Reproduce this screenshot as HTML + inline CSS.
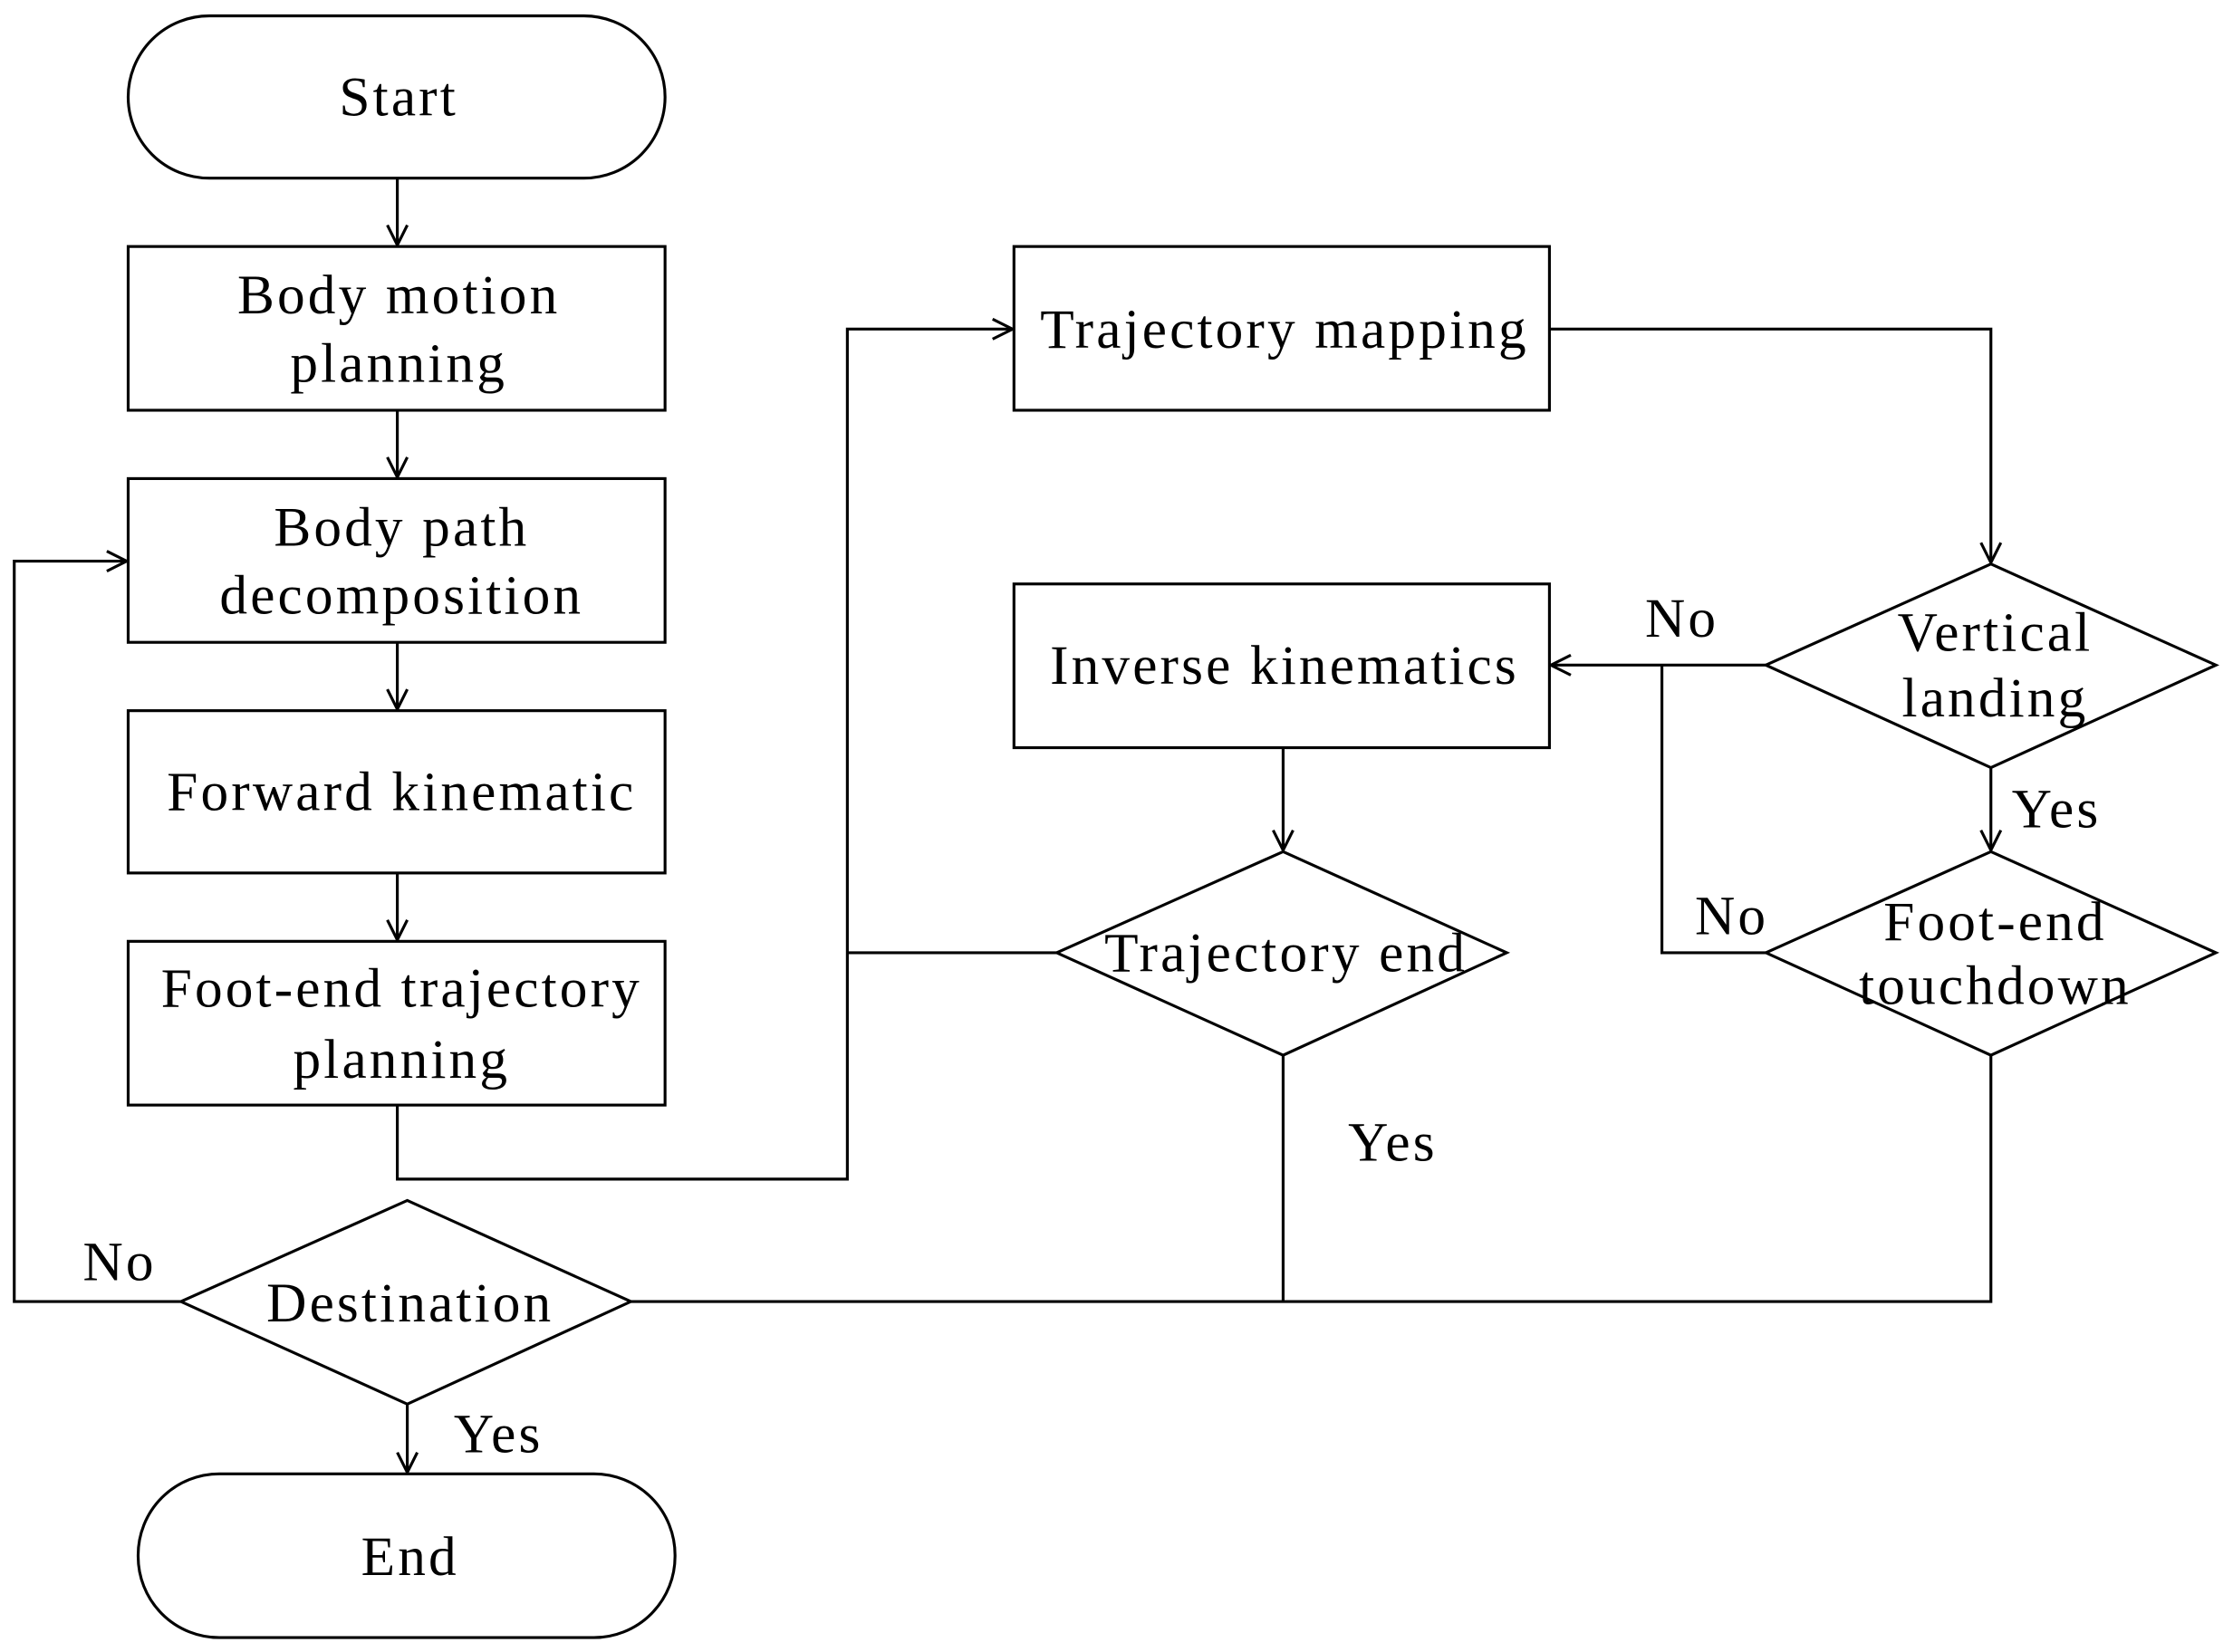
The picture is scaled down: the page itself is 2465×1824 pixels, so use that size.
<!DOCTYPE html>
<html><head><meta charset="utf-8"><style>
html,body{margin:0;padding:0;background:#fff;}
svg{display:block;}
text{font-family:"Liberation Serif",serif;font-size:39px;letter-spacing:2px;fill:#000;text-anchor:middle;}
</style></head><body>
<svg width="2465" height="1824" viewBox="0 0 1568 1160" xmlns="http://www.w3.org/2000/svg">
<defs><marker id="a" markerWidth="16" markerHeight="16" refX="15" refY="8" orient="auto" markerUnits="userSpaceOnUse"><path d="M1,1 L15,8 L1,15" fill="none" stroke="#000" stroke-width="2"/></marker></defs>
<g fill="none" stroke="#000" stroke-width="2">
<rect x="90" y="11" width="377" height="114" rx="57"/>
<rect x="90" y="173" width="377" height="115"/>
<rect x="90" y="336" width="377" height="115"/>
<rect x="90" y="499" width="377" height="114"/>
<rect x="90" y="661" width="377" height="115"/>
<rect x="712" y="173" width="376" height="115"/>
<rect x="712" y="410" width="376" height="115"/>
<rect x="97" y="1035" width="377" height="115" rx="57"/>
<polygon points="1240,467 1398,396 1556,467 1398,539"/>
<polygon points="1240,669 1398,598 1556,669 1398,741"/>
<polygon points="742,669 901,598 1058,669 901,741"/>
<polygon points="127,914 286,843 443,914 286,986"/>
<line x1="279" y1="125" x2="279" y2="172" marker-end="url(#a)"/>
<line x1="279" y1="288" x2="279" y2="335" marker-end="url(#a)"/>
<line x1="279" y1="451" x2="279" y2="498" marker-end="url(#a)"/>
<line x1="279" y1="613" x2="279" y2="660" marker-end="url(#a)"/>
<polyline points="279,776 279,828 595,828 595,231 711,231" marker-end="url(#a)"/>
<line x1="742" y1="669" x2="595" y2="669"/>
<polyline points="1088,231 1398,231 1398,395" marker-end="url(#a)"/>
<line x1="1240" y1="467" x2="1089" y2="467" marker-end="url(#a)"/>
<line x1="1398" y1="539" x2="1398" y2="597" marker-end="url(#a)"/>
<polyline points="1240,669 1167,669 1167,467"/>
<line x1="901" y1="525" x2="901" y2="597" marker-end="url(#a)"/>
<line x1="901" y1="741" x2="901" y2="914"/>
<polyline points="1398,741 1398,914 443,914"/>
<polyline points="127,914 10,914 10,394 89,394" marker-end="url(#a)"/>
<line x1="286" y1="986" x2="286" y2="1034" marker-end="url(#a)"/>
</g>
<text x="280" y="81">Start</text>
<text x="280" y="220">Body motion</text>
<text x="280" y="268">planning</text>
<text x="282" y="383">Body path</text>
<text x="282" y="431">decomposition</text>
<text x="282" y="569">Forward kinematic</text>
<text x="282" y="707">Foot-end trajectory</text>
<text x="282" y="757">planning</text>
<text x="902" y="244">Trajectory mapping</text>
<text x="902" y="480">Inverse kinematics</text>
<text x="1401" y="457">Vertical</text>
<text x="1401" y="503">landing</text>
<text x="1401" y="660">Foot-end</text>
<text x="1401" y="705">touchdown</text>
<text x="903" y="682">Trajectory end</text>
<text x="288" y="928">Destination</text>
<text x="288" y="1106">End</text>
<text x="1181" y="447">No</text>
<text x="1444" y="581">Yes</text>
<text x="1216" y="656">No</text>
<text x="978" y="815">Yes</text>
<text x="84" y="899">No</text>
<text x="350" y="1020">Yes</text>
</svg>
</body></html>
